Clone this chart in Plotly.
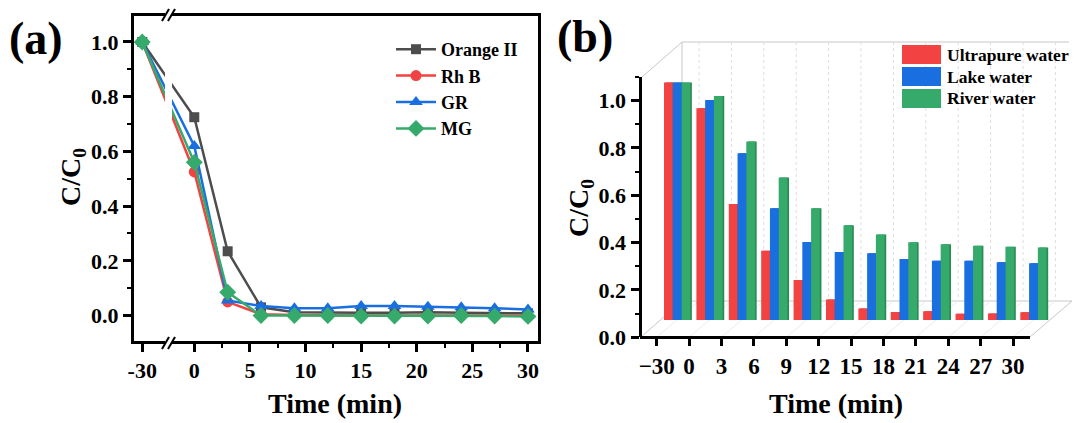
import plotly.graph_objects as go

W, H = 1075, 423
FONT = "Liberation Serif"
INK = "#000000"

# ---------- panel (a) data ----------
time_a = [-30, 0, 3, 6, 9, 12, 15, 18, 21, 24, 27, 30]
orange_ii = [1.0, 0.725, 0.235, 0.030, 0.012, 0.010, 0.010, 0.010, 0.012, 0.010, 0.008, 0.008]
rh_b = [1.0, 0.525, 0.050, 0.005, 0.002, 0.0, 0.0, 0.0, 0.0, 0.0, 0.0, 0.0]
gr = [1.0, 0.620, 0.055, 0.035, 0.027, 0.027, 0.035, 0.035, 0.032, 0.030, 0.027, 0.022]
mg = [1.0, 0.560, 0.085, 0.0, 0.0, 0.0, -0.002, -0.002, -0.002, 0.0, -0.002, -0.003]
ticks_a = [-30, 0, 5, 10, 15, 20, 25, 30]

# ---------- panel (b) data ----------
time_b = ["\u221230", "0", "3", "6", "9", "12", "15", "18", "21", "24", "27", "30"]
ultrapure = [1.004, 0.895, 0.490, 0.293, 0.169, 0.087, 0.049, 0.034, 0.037, 0.026, 0.028, 0.033]
lake = [1.004, 0.930, 0.705, 0.472, 0.330, 0.287, 0.282, 0.258, 0.251, 0.250, 0.244, 0.240]
river = [1.004, 0.947, 0.754, 0.602, 0.472, 0.400, 0.361, 0.329, 0.320, 0.314, 0.310, 0.307]

GREY, RED, BLUE, GREEN = "#4d4d4d", "#f24242", "#1a6fe0", "#35aa6b"
RED_D, BLUE_D, GREEN_D = "#c93434", "#1557b5", "#2a8a56"

BREAK_POS = -4.68   # axis position that stands for t = -30 (broken axis)


def pos_a(t):
    return BREAK_POS if t < 0 else t


def fx(px):
    return px / W


def fy(py):
    return 1 - py / H


fig = go.Figure()

# ---------- panel (a) ----------
x_a = [pos_a(t) for t in time_a]
for i, (name, vals, col, sym, size) in enumerate([
    ("Orange II", orange_ii, GREY, "square", 10),
    ("Rh B", rh_b, RED, "circle", 11),
    ("GR", gr, BLUE, "triangle-up", 12),
    ("MG", mg, GREEN, "diamond", 13),
]):
    fig.add_trace(go.Scatter(
        x=x_a, y=vals, name=name, mode="lines+markers", xaxis="x", yaxis="y",
        line=dict(color=col, width=2.5),
        marker=dict(color=col, symbol=sym, size=size),
        legend="legend", legendgroup=name,
    ))

# ---------- panel (b) : pseudo-3D bars ----------
DEPTH = 0.073   # height of the floor's front-to-back offset
idx = list(range(len(time_b)))
BW = 0.27
for vals, col, dark, off in [
    (ultrapure, RED, RED_D, 0.225),
    (lake, BLUE, BLUE_D, 0.495),
    (river, GREEN, GREEN_D, 0.765),
]:
    fig.add_trace(go.Bar(x=idx, y=vals, base=DEPTH, width=BW, offset=off + 0.05,
                         marker=dict(color=dark, line=dict(width=0)),
                         xaxis="x2", yaxis="y2", showlegend=False, cliponaxis=False))
    fig.add_trace(go.Bar(x=idx, y=vals, base=DEPTH, width=BW, offset=off,
                         marker=dict(color=col, line=dict(width=0)),
                         xaxis="x2", yaxis="y2", showlegend=False, cliponaxis=False))

shapes = []


def pline(x0, y0, x1, y1, color="#c8c8c8", width=1, dash="solid", layer="below"):
    shapes.append(dict(type="line", xref="paper", yref="paper",
                       x0=fx(x0), y0=fy(y0), x1=fx(x1), y1=fy(y1),
                       line=dict(color=color, width=width, dash=dash), layer=layer))


# 3D box of panel (b)
pline(682, 42, 1069, 42)
pline(682, 42, 682, 301)
pline(642, 77, 682, 42)
pline(682, 301, 1072, 301)
pline(641, 337, 682, 301)
pline(1030, 337, 1072, 301)
for k in range(12):
    xb = 699 + 32.4 * k
    pline(xb, 42, xb, 301, color="#dddddd", dash="dot")
    pline(xb - 42, 337, xb, 301, color="#ececec")
# front edge of the floor: the x axis line stops here, the plot area runs on for the depth
pline(640, 337.5, 1030, 337.5, color=INK, width=3, layer="above")

# axis break of panel (a)
shapes.append(dict(type="rect", xref="paper", yref="paper", x0=fx(165), x1=fx(172),
                   y0=fy(352), y1=fy(8), fillcolor="white", line=dict(width=0), layer="above"))
for dx in (0, 6):
    pline(162 + dx, 21, 169 + dx, 9, color=INK, width=2, layer="above")
    pline(162 + dx, 349, 169 + dx, 337, color=INK, width=2, layer="above")

# legend of panel (b)
annotations = []
for name, col, y0 in [("Ultrapure water", RED, 45), ("Lake water", BLUE, 67), ("River water", GREEN, 89)]:
    shapes.append(dict(type="rect", xref="paper", yref="paper", x0=fx(902), x1=fx(941),
                       y0=fy(y0), y1=fy(y0 + 19), fillcolor=col, line=dict(width=0), layer="above"))
    annotations.append(dict(text=f"<b>{name}</b>", xref="paper", yref="paper", x=fx(945), y=fy(y0 + 9.5),
                            xanchor="left", yanchor="middle", showarrow=False,
                            font=dict(family=FONT, size=17.5, color=INK)))

annotations.append(dict(text="<b>(a)</b>", xref="paper", yref="paper", x=fx(36), y=fy(38),
                        xanchor="center", yanchor="middle", showarrow=False,
                        font=dict(family=FONT, size=46, color=INK)))
annotations.append(dict(text="<b>(b)</b>", xref="paper", yref="paper", x=fx(585), y=fy(36),
                        xanchor="center", yanchor="middle", showarrow=False,
                        font=dict(family=FONT, size=46, color=INK)))

tickfont = dict(family=FONT, size=22, color=INK)
titlefont = dict(family=FONT, size=28, color=INK)
tfont_b = dict(family=FONT, size=22, color=INK)
Y_TITLE = "<b>C/C<sub>0</sub></b>"
X_TITLE = "<b>Time (min)</b>"

for text, px, py, angle in [(X_TITLE, 335, 403, 0), (X_TITLE, 836, 403, 0),
                            (Y_TITLE, 72, 177, -90), (Y_TITLE, 580, 208, -90)]:
    annotations.append(dict(text=text, xref="paper", yref="paper", x=fx(px), y=fy(py),
                            xanchor="center", yanchor="middle", showarrow=False,
                            textangle=angle, font=titlefont))

fig.update_layout(
    width=W, height=H, margin=dict(l=0, r=0, t=0, b=0), autosize=False,
    paper_bgcolor="white", plot_bgcolor="rgba(0,0,0,0)",
    barmode="overlay", shapes=shapes, annotations=annotations,
    font=dict(family=FONT, color=INK),
    xaxis=dict(domain=[fx(134), fx(538)], range=[-5.42, 30.9], anchor="y", automargin=False,
               tickvals=[pos_a(t) for t in ticks_a],
               ticktext=[f"<b>{t}</b>" for t in ticks_a],
               tickfont=tickfont, ticks="outside", ticklen=8, tickwidth=2.5, tickcolor=INK,
               minor=dict(tickvals=[2.5, 7.5, 12.5, 17.5, 22.5, 27.5], ticks="outside",
                          ticklen=4, tickwidth=2, tickcolor=INK),
               showline=True, linewidth=3, linecolor=INK, mirror=True, showgrid=False, zeroline=False),
    yaxis=dict(domain=[fy(341), fy(16)], range=[-0.093, 1.095], anchor="x", automargin=False,
               tickvals=[0, 0.2, 0.4, 0.6, 0.8, 1.0],
               ticktext=["<b>0.0</b>", "<b>0.2</b>", "<b>0.4</b>", "<b>0.6</b>", "<b>0.8</b>", "<b>1.0</b>"],
               tickfont=tickfont, ticks="outside", ticklen=8, tickwidth=2.5, tickcolor=INK,
               minor=dict(tickvals=[0.1, 0.3, 0.5, 0.7, 0.9], ticks="outside",
                          ticklen=4, tickwidth=2, tickcolor=INK),
               showline=True, linewidth=3, linecolor=INK, mirror=True, showgrid=False, zeroline=False),
    xaxis2=dict(domain=[fx(641.5), fx(1072)], range=[-0.47, 12.82], anchor="y2", automargin=False,
                tickvals=idx, ticktext=[f"<b>{t}</b>" for t in time_b],
                tickfont=dict(family=FONT, size=23, color=INK),
                ticks="outside", ticklen=8, tickwidth=2.5, tickcolor=INK,
                showline=False, showgrid=False, zeroline=False),
    yaxis2=dict(domain=[fy(337.3), fy(77)], range=[0, 1.1], anchor="x2", automargin=False,
                tickvals=[0.0, 0.2, 0.4, 0.6, 0.8, 1.0],
                ticktext=["<b>0.0</b>", "<b>0.2</b>", "<b>0.4</b>", "<b>0.6</b>", "<b>0.8</b>", "<b>1.0</b>"],
                tickfont=tfont_b, ticks="outside", ticklen=8, tickwidth=2.5, tickcolor=INK,
                minor=dict(tickvals=[0.1, 0.3, 0.5, 0.7, 0.9, 1.1], ticks="outside",
                           ticklen=4, tickwidth=2, tickcolor=INK),
                showline=True, linewidth=3, linecolor=INK, showgrid=False, zeroline=False),
    legend=dict(x=fx(391), y=fy(31), xanchor="left", yanchor="top", bgcolor="rgba(0,0,0,0)",
                font=dict(family=FONT, size=18, color=INK, weight="bold"),
                itemwidth=40, tracegroupgap=3, traceorder="normal", itemsizing="trace"),
)
fig.write_html("out.html", config={"displayModeBar": False},
               post_script="document.body.style.margin='0';document.body.style.overflow='hidden';")
